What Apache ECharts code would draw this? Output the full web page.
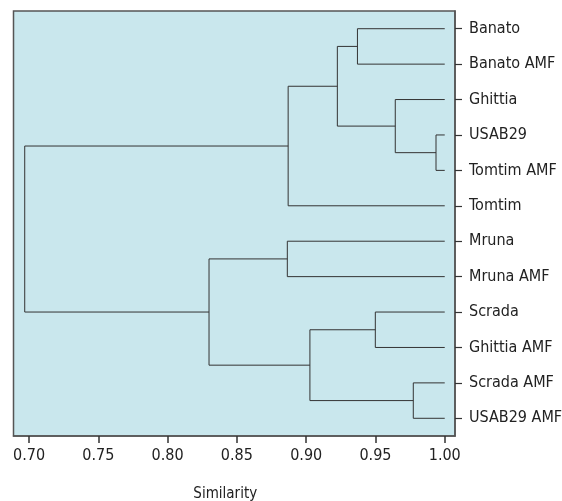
<!DOCTYPE html>
<html>
<head>
<meta charset="utf-8">
<script src="https://cdn.jsdelivr.net/npm/echarts@6/dist/echarts.min.js"></script>
<style>
  html, body { margin: 0; padding: 0; background: #fff; }
  #main { width: 562px; height: 501px; }
</style>
</head>
<body>
<div id="main"></div>
<script>
// leaf labels, top to bottom
var leaves = ['Banato', 'Banato AMF', 'Ghittia', 'USAB29', 'Tomtim AMF', 'Tomtim',
  'Mruna', 'Mruna AMF', 'Scrada', 'Ghittia AMF', 'Scrada AMF', 'USAB29 AMF'];
// merges: [left node, right node, similarity]; leaves are 0..11, merges numbered from 12
var mergeLeft = [0, 3, 2, 12, 15, 6, 8, 10, 18, 17, 16];
var mergeRight = [1, 4, 13, 14, 5, 7, 9, 11, 19, 20, 21];
var mergeSim = [0.937, 0.9937, 0.9643, 0.9225, 0.887, 0.8864, 0.9499, 0.9773, 0.9027, 0.8299, 0.6969];
var tickValues = [0.70, 0.75, 0.80, 0.85, 0.90, 0.95, 1.00];

var font = 'DejaVu Sans Condensed, sans-serif';

// node positions
var nodeY = leaves.map(function (d, i) { return i; });
var nodeX = leaves.map(function () { return 1.0; });
var series = [];
for (var i = 0; i < mergeSim.length; i++) {
  var a = mergeLeft[i], b = mergeRight[i], h = mergeSim[i];
  series.push({
    type: 'line',
    yAxisIndex: 1,
    symbol: 'none',
    silent: true,
    lineStyle: { color: '#333', width: 1 },
    data: [[nodeX[a], nodeY[a]], [h, nodeY[a]], [h, nodeY[b]], [nodeX[b], nodeY[b]]]
  });
  nodeX.push(h);
  nodeY.push((nodeY[a] + nodeY[b]) / 2);
}

var myChart = echarts.init(document.getElementById('main'));
myChart.setOption({
  animation: false,
  grid: {
    left: 13.5, top: 11, right: 107, bottom: 65,
    outerBoundsMode: 'none',
    containLabel: false,
    show: true,
    backgroundColor: '#c9e7ed',
    borderColor: '#555',
    borderWidth: 1.5
  },
  xAxis: {
    type: 'value',
    min: 0.6888,
    max: 1.0074,
    position: 'bottom',
    name: 'Similarity',
    nameLocation: 'middle',
    nameGap: 51,
    nameMoveOverlap: false,
    nameTextStyle: { fontFamily: font, fontSize: 15, color: '#222', padding: [0, 18, 0, 0] },
    axisLine: { show: true, onZero: false, lineStyle: { color: '#555', width: 1.5 } },
    splitLine: { show: false },
    axisTick: { show: true, inside: false, length: 7, lineStyle: { color: '#333', width: 1.5 }, customValues: tickValues },
    axisLabel: {
      fontFamily: font, fontSize: 16, color: '#222', margin: 12,
      customValues: tickValues,
      formatter: function (v) { return v.toFixed(2); }
    }
  },
  yAxis: [{
    type: 'category',
    data: leaves,
    inverse: true,
    position: 'right',
    boundaryGap: true,
    axisLine: { show: true, onZero: false, lineStyle: { color: '#555', width: 1.5 } },
    axisTick: { show: true, alignWithLabel: true, length: 7, lineStyle: { color: '#333', width: 1.2 } },
    axisLabel: { fontFamily: font, fontSize: 16, color: '#222', margin: 14 },
    splitLine: { show: false }
  }, {
    type: 'value',
    min: -0.5,
    max: 11.5,
    inverse: true,
    show: false,
    axisLine: { onZero: false }
  }],
  series: series
});
</script>
</body>
</html>
